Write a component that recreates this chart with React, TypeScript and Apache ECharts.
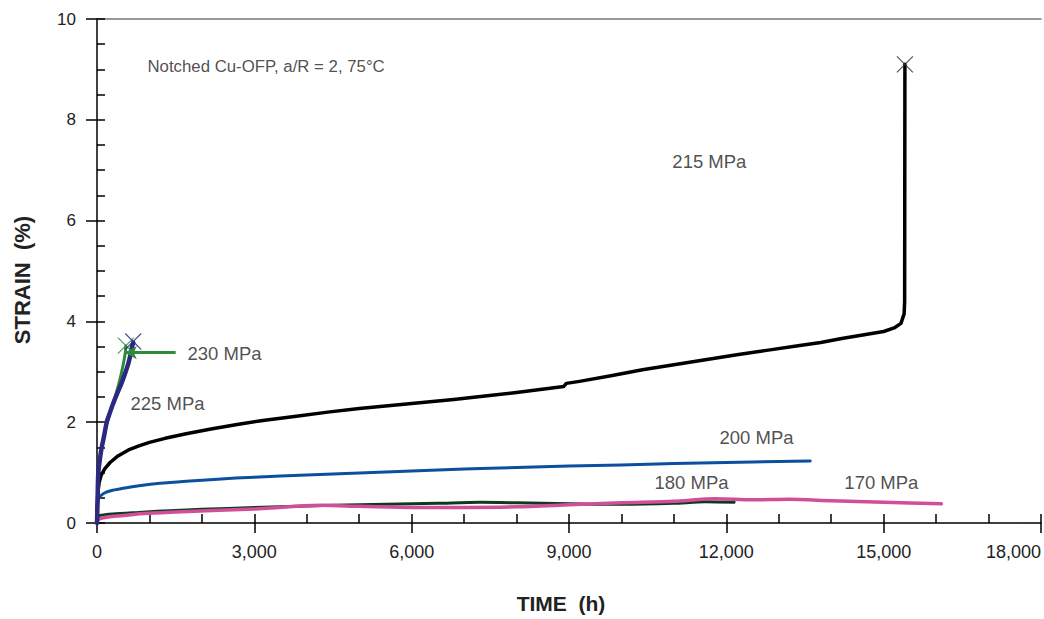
import React, { useEffect, useRef } from "react";
import * as echarts from "echarts";

// time (h), strain (%)
const s215: number[][] = [
  [0, 0], [5, 0.35], [15, 0.6], [40, 0.8], [80, 0.95], [150, 1.08], [250, 1.2], [400, 1.33],
  [600, 1.45], [800, 1.53], [1000, 1.6], [1300, 1.68], [1700, 1.77], [2200, 1.87], [2700, 1.96],
  [3200, 2.04], [3800, 2.12], [4400, 2.2], [5000, 2.27], [5600, 2.33], [6200, 2.39], [6800, 2.45],
  [7400, 2.52], [8000, 2.59], [8600, 2.67], [8900, 2.71], [8950, 2.77], [9200, 2.81], [9800, 2.92],
  [10400, 3.04], [11000, 3.14], [11600, 3.24], [12200, 3.34], [12800, 3.43], [13400, 3.52],
  [13800, 3.58], [14200, 3.66], [14600, 3.73], [15000, 3.8], [15200, 3.87], [15330, 3.96],
  [15390, 4.15], [15400, 4.4], [15405, 9.1],
];
const s200: number[][] = [
  [0, 0], [5, 0.3], [20, 0.45], [60, 0.53], [150, 0.6], [300, 0.65], [500, 0.69], [800, 0.74],
  [1200, 0.79], [1700, 0.83], [2300, 0.87], [3000, 0.91], [4000, 0.95], [5000, 0.99], [6000, 1.03],
  [7000, 1.07], [8000, 1.1], [9000, 1.13], [10000, 1.15], [11000, 1.18], [12000, 1.2], [13000, 1.22],
  [13600, 1.23],
];
const s180: number[][] = [
  [0, 0], [10, 0.12], [50, 0.15], [300, 0.18], [800, 0.21], [1500, 0.25], [2500, 0.29], [3500, 0.32],
  [4500, 0.35], [5500, 0.37], [6500, 0.39], [7300, 0.41], [8000, 0.4], [9000, 0.38], [10000, 0.37],
  [11000, 0.39], [11600, 0.42], [12150, 0.41],
];
const s170: number[][] = [
  [0, 0], [10, 0.06], [100, 0.1], [400, 0.14], [900, 0.19], [1500, 0.22], [2200, 0.25], [3000, 0.28],
  [3800, 0.33], [4300, 0.35], [5000, 0.33], [6000, 0.31], [7000, 0.31], [8000, 0.32], [9000, 0.36],
  [10000, 0.4], [11000, 0.43], [11800, 0.48], [12500, 0.46], [13200, 0.47], [14000, 0.44],
  [15000, 0.41], [16100, 0.38],
];
const s225: number[][] = [
  [0, 0], [10, 0.4], [25, 1.0], [60, 1.3], [90, 1.5], [140, 1.75], [185, 2.0], [250, 2.2],
  [312, 2.38], [390, 2.58], [470, 2.78], [540, 2.98], [600, 3.17], [640, 3.35], [670, 3.5], [690, 3.58],
];
const s230: number[][] = [
  [0, 0], [10, 0.4], [25, 0.95], [60, 1.3], [100, 1.55], [160, 1.85], [240, 2.15], [330, 2.45],
  [400, 2.7], [460, 2.95], [510, 3.2], [540, 3.38], [550, 3.51],
];
const ruptures = { s215: [15405, 9.1], s225: [690, 3.6], s230: [550, 3.52] };
const pointer230 = [[530, 3.38], [1500, 3.38]];

const labels: { text: string; at: number[]; size: number }[] = [
  { text: "Notched Cu-OFP, a/R = 2, 75°C", at: [972, 9.05], size: 16.8 },
  { text: "215 MPa", at: [10980, 7.16], size: 18.5 },
  { text: "230 MPa", at: [1735, 3.35], size: 18.5 },
  { text: "225 MPa", at: [648, 2.36], size: 18.5 },
  { text: "200 MPa", at: [11880, 1.69], size: 18.5 },
  { text: "180 MPa", at: [10640, 0.79], size: 18.5 },
  { text: "170 MPa", at: [14260, 0.79], size: 18.5 },
];

const X_MAX = 18000;
const X_MAJOR = 3000;
const X_MINOR = 1000;
const Y_MAX = 10;
const Y_MAJOR = 2;
const Y_MINOR = 0.5;

const FONT = "'Liberation Sans', Arial, sans-serif";
const XMARK = "path://M0,0L10,10M10,0L0,10";

export default function App() {
  const ref = useRef<HTMLDivElement>(null);
  useEffect(() => {
    if (!ref.current) return;
    const chart = echarts.init(ref.current, undefined, { renderer: "svg" });
    const line = (name: string, data: number[][], color: string, width: number, extra: any = {}) => ({
      type: "line",
      name,
      data,
      showSymbol: false,
      symbol: "none",
      lineStyle: { color, width, join: "round", cap: "round" },
      itemStyle: { color },
      z: 3,
      ...extra,
    });
    const marker = (pt: number[], color: string, size: number) => ({
      type: "scatter",
      data: [pt],
      symbol: XMARK,
      symbolSize: size,
      itemStyle: { color: "none", borderColor: color, borderWidth: 1.3 },
      z: 5,
    });
    chart.setOption({
      animation: false,
      backgroundColor: "#fff",
      grid: { left: 97, right: 3, top: 19, bottom: 96 },
      xAxis: [
        {
          type: "value", min: 0, max: X_MAX, interval: X_MAJOR, position: "bottom",
          axisLine: { show: true, lineStyle: { color: "#000", width: 1.5 } },
          axisTick: { show: true, inside: false, length: 10, lineStyle: { color: "#000", width: 1.5 } },
          axisLabel: {
            show: true, margin: 20, fontSize: 18, color: "#222", fontFamily: FONT,
            alignMaxLabel: "right",
            formatter: (v: number) => v.toLocaleString("en-US"),
          },
          splitLine: { show: false },
        },
        {
          type: "value", min: 0, max: X_MAX, interval: X_MINOR, position: "bottom",
          axisLine: { show: false },
          axisTick: { show: true, inside: true, length: 9, lineStyle: { color: "#000", width: 1.5 } },
          axisLabel: { show: false },
          splitLine: { show: false },
        },
        {
          type: "value", min: 0, max: X_MAX, position: "top",
          axisLine: { show: true, lineStyle: { color: "#777", width: 1.5 } },
          axisTick: { show: false },
          axisLabel: { show: false },
          splitLine: { show: false },
        },
      ],
      yAxis: [
        {
          type: "value", min: 0, max: Y_MAX, interval: Y_MAJOR, position: "left",
          axisLine: { show: true, lineStyle: { color: "#000", width: 1.5 } },
          axisTick: { show: true, inside: false, length: 11, lineStyle: { color: "#000", width: 1.5 } },
          axisLabel: { show: true, margin: 21, fontSize: 17, color: "#222", fontFamily: FONT },
          splitLine: { show: false },
        },
        {
          type: "value", min: 0, max: Y_MAX, interval: Y_MINOR, position: "left", offset: 0,
          axisLine: { show: false },
          axisTick: { show: true, inside: true, length: 8, lineStyle: { color: "#000", width: 1.5 } },
          axisLabel: { show: false },
          splitLine: { show: false },
        },
      ],
      series: [
        line("200 MPa", s200, "#0b4f9e", 3, { smooth: 0.25 }),
        line("180 MPa", s180, "#0d3a1e", 3, { smooth: 0.25 }),
        line("170 MPa", s170, "#d24e98", 3.5, { smooth: 0.25 }),
        line("215 MPa", s215, "#000000", 3.5),
        line("230 MPa", s230, "#2d8b3b", 3, {
          smooth: 0.3,
          markLine: {
            silent: true,
            symbol: ["arrow", "none"],
            symbolSize: [10, 12],
            lineStyle: { color: "#2d8b3b", width: 3, type: "solid" },
            label: { show: false },
            data: [[{ coord: pointer230[0] }, { coord: pointer230[1] }]],
          },
        }),
        line("225 MPa", s225, "#2b2a80", 4.5, { smooth: 0.3 }),
        marker(ruptures.s215, "#333333", 16),
        marker(ruptures.s230, "#2d8b3b", 16),
        marker(ruptures.s225, "#2b2a80", 16),
        {
          type: "scatter",
          symbolSize: 1,
          itemStyle: { color: "transparent" },
          z: 6,
          data: labels.map((l) => ({
            value: l.at,
            label: {
              show: true,
              position: [0, 0],
              align: "left",
              verticalAlign: "middle",
              formatter: l.text,
              fontSize: l.size,
              color: "#222",
              fontFamily: FONT,
            },
          })),
        },
      ],
      graphic: [
        {
          type: "text", x: 22, y: 280, rotation: Math.PI / 2,
          style: {
            text: "STRAIN  (%)", font: `bold 22px ${FONT}`, fill: "#222",
            textAlign: "center", textVerticalAlign: "middle",
          },
        },
        {
          type: "text", x: 561, y: 603,
          style: {
            text: "TIME  (h)", font: `bold 21px ${FONT}`, fill: "#222",
            textAlign: "center", textVerticalAlign: "middle",
          },
        },
      ],
    });
    return () => chart.dispose();
  }, []);
  return (
    <div
      ref={ref}
      style={{ position: "fixed", left: 0, top: 0, width: 1044, height: 619, background: "#fff" }}
    />
  );
}
